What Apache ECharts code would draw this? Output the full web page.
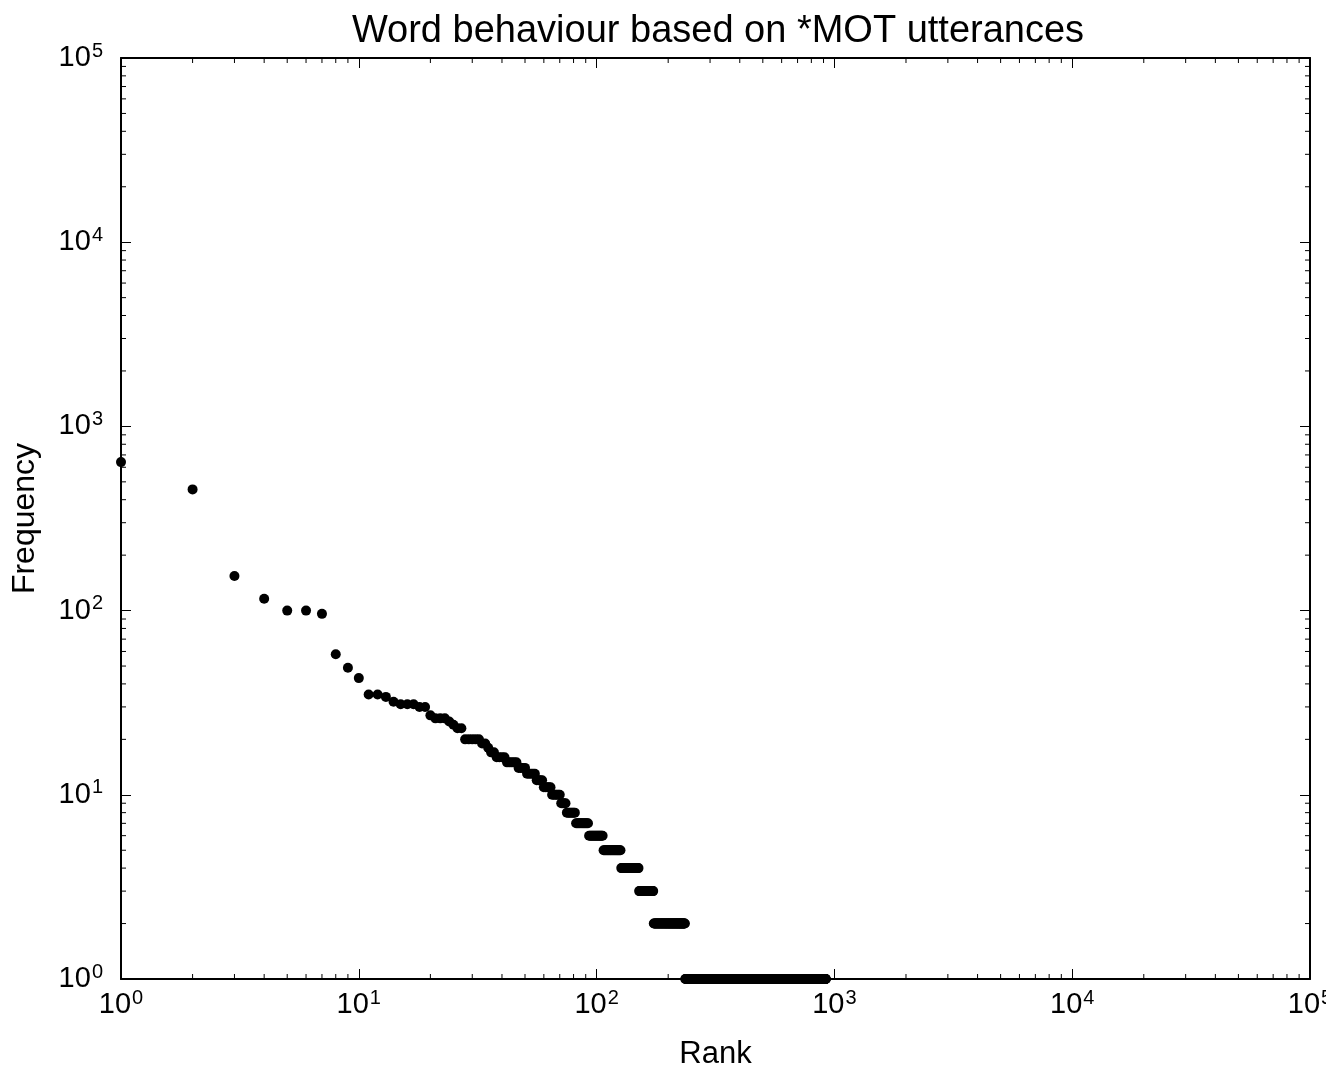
<!DOCTYPE html>
<html>
<head>
<meta charset="utf-8">
<script src="https://cdn.jsdelivr.net/npm/echarts@6/dist/echarts.min.js"></script>
<style>
html,body{margin:0;padding:0;background:#fff;}
#chart{width:1326px;height:1068px;}
</style>
</head>
<body>
<div id="chart"></div>
<script>
// Frequencies of ranks 1..27 (one value per rank)
const headFrequencies = [640, 455, 154, 116, 100, 100, 96, 58, 49, 43, 35, 35, 34, 32, 31, 31, 31, 30, 30, 27, 26, 26, 26, 25, 24, 23, 23];
// Tail: frequency levels and how many consecutive ranks share each level (ranks 28..920)
const tailFrequencies = [20, 19, 18, 17, 16, 15, 14, 13, 12, 11, 10, 9, 8, 7, 6, 5, 4, 3, 2, 1];
const tailRankCounts  = [5, 2, 1, 2, 4, 5, 4, 5, 4, 5, 6, 4, 7, 11, 14, 20, 24, 23, 62, 685];
// Axis tick labels (exponents of 10)
const tickExponents = ['0', '1', '2', '3', '4', '5'];
const decades = [1, 10, 100, 1000, 10000];
const minorMultipliers = [2, 3, 4, 5, 6, 7, 8, 9];

const points = [];
headFrequencies.forEach((f, i) => points.push([i + 1, f]));
let rank = headFrequencies.length + 1;
tailFrequencies.forEach((f, i) => {
  for (let k = 0; k < tailRankCounts[i]; k++) { points.push([rank, f]); rank++; }
});

const minorVals = [];
decades.forEach(d => minorMultipliers.forEach(m => minorVals.push(m * d)));

const FONT = "'Liberation Sans', Arial, sans-serif";
const MINOR_LEN = 5;

function expLabel(v) {
  const e = Math.round(Math.log10(v));
  return '{b|10}{s|' + tickExponents[e] + '}';
}
const richStyle = {
  b: { fontSize: 29, fontFamily: FONT, color: '#000', lineHeight: 34 },
  s: { fontSize: 20, fontFamily: FONT, color: '#000', verticalAlign: 'top', lineHeight: 20, padding: [0, 0, 0, 1] }
};

const axisLineStyle = { show: true, lineStyle: { color: '#000', width: 2 } };
const axisTickStyle = { show: true, inside: true, length: 10, lineStyle: { color: '#000', width: 1 } };

function baseLogAxis(extra) {
  return Object.assign({
    type: 'log', logBase: 10, min: 1, max: 100000, splitNumber: 5,
    axisLine: axisLineStyle, axisTick: axisTickStyle,
    splitLine: { show: false }, minorTick: { show: false }, minorSplitLine: { show: false }
  }, extra);
}

const chart = echarts.init(document.getElementById('chart'), null, { renderer: 'canvas' });
chart.setOption({
  backgroundColor: '#fff',
  animation: false,
  title: {
    text: 'Word behaviour based on *MOT utterances',
    left: 713, textAlign: 'center', top: 8,
    textStyle: { fontFamily: FONT, fontSize: 38, fontWeight: 'normal', color: '#000' }
  },
  grid: { left: 121, right: 16, top: 58, bottom: 89, containLabel: false, outerBoundsMode: 'none' },
  xAxis: [
    baseLogAxis({
      position: 'bottom', name: 'Rank', nameLocation: 'middle', nameGap: 60,
      nameTextStyle: { fontFamily: FONT, fontSize: 31, color: '#000' },
      axisLabel: { show: true, margin: 9, formatter: expLabel, rich: richStyle, showMaxLabel: true, showMinLabel: true, hideOverlap: false }
    }),
    baseLogAxis({ position: 'top', axisLabel: { show: false } })
  ],
  yAxis: [
    baseLogAxis({
      position: 'left', name: 'Frequency', nameLocation: 'middle', nameGap: 80, nameRotate: 90,
      nameTextStyle: { fontFamily: FONT, fontSize: 32, color: '#000' },
      axisLabel: { show: true, margin: 18, formatter: expLabel, rich: richStyle, showMaxLabel: true, showMinLabel: true, hideOverlap: false }
    }),
    baseLogAxis({ position: 'right', axisLabel: { show: false } })
  ],
  series: [
    {
      type: 'custom', xAxisIndex: 0, yAxisIndex: 0, silent: true, clip: false,
      data: minorVals.map(v => [v, 1]),
      renderItem: function (params, api) {
        const v = api.value(0);
        const b = api.coord([v, 1]);
        const t = api.coord([v, 100000]);
        const st = { stroke: '#000', lineWidth: 1 };
        return { type: 'group', children: [
          { type: 'line', shape: { x1: b[0], y1: b[1], x2: b[0], y2: b[1] - MINOR_LEN }, style: st },
          { type: 'line', shape: { x1: t[0], y1: t[1], x2: t[0], y2: t[1] + MINOR_LEN }, style: st }
        ]};
      }
    },
    {
      type: 'custom', xAxisIndex: 0, yAxisIndex: 0, silent: true, clip: false,
      data: minorVals.map(v => [1, v]),
      renderItem: function (params, api) {
        const v = api.value(1);
        const l = api.coord([1, v]);
        const r = api.coord([100000, v]);
        const st = { stroke: '#000', lineWidth: 1 };
        return { type: 'group', children: [
          { type: 'line', shape: { x1: l[0], y1: l[1], x2: l[0] + MINOR_LEN, y2: l[1] }, style: st },
          { type: 'line', shape: { x1: r[0], y1: r[1], x2: r[0] - MINOR_LEN, y2: r[1] }, style: st }
        ]};
      }
    },
    {
      type: 'scatter', xAxisIndex: 0, yAxisIndex: 0,
      data: points, symbol: 'circle', symbolSize: 10,
      itemStyle: { color: '#000', opacity: 1 }, z: 5
    }
  ]
});
</script>
</body>
</html>
